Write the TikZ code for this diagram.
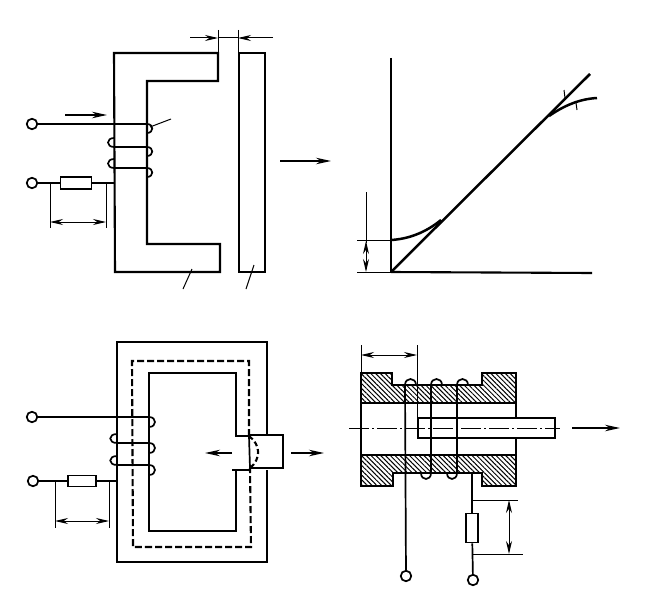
\documentclass[tikz,border=0pt]{standalone}
\usetikzlibrary{arrows.meta,patterns.meta}

\tikzset{
  wire/.style={line width=1.7pt},
  core/.style={line width=2.1pt,line join=miter},
  thin dim/.style={line width=1pt},
  dim arrow/.style={line width=1pt,{Stealth[length=13pt,width=6pt]}-{Stealth[length=13pt,width=6pt]}},
  gap arrow/.style={line width=1pt,-{Stealth[length=13pt,width=6pt]}},
  move arrow/.style={line width=1.3pt,-{Stealth[length=15pt,width=6.5pt]}},
  terminal/.style={circle,draw,line width=1.7pt,fill=white,minimum size=10.5pt,inner sep=0pt},
  resistor/.style={rectangle,draw,line width=1.9pt,fill=white,inner sep=0pt},
  hatched/.style={pattern={Lines[angle=-45,distance=3.4pt,line width=1pt]}}
}

\begin{document}
\begin{tikzpicture}[x=1pt,y=-1pt]

    \useasboundingbox (0,0) rectangle (663,599);

    % top left: open core and armature
    \draw[core] (218,53) -- (114,53) -- (115,272) -- (220,272) -- (220,244) -- (147,244) -- (147,81) -- (218,81) -- cycle;
    \draw[core] (239,53) rectangle (265,272);

    \draw[thin dim] (218,30) -- (218,53);
    \draw[thin dim] (238,30) -- (238,53);
    \coordinate (gapl) at (218,38);
    \coordinate (gapr) at (238,38);
    \coordinate (gapla) at (190,38);
    \coordinate (gapra) at (273,38);
    \draw[thin dim] (gapl) -- (gapr);
    \draw[gap arrow] (gapla) -- (gapl);
    \draw[gap arrow] (gapra) -- (gapr);

    \node(in1) [terminal] at (32,124) {};
    \node(in2) [terminal] at (32,183) {};
    \node(res1) [resistor,minimum width=31pt,minimum height=12pt] at (76,183) {};
    \coordinate (coil1a) at (147,124);
    \coordinate (coil1b) at (115,183);
    \draw[wire] (in1) -- (coil1a);
    \draw[wire] (in2) -- (res1);
    \draw[wire] (res1) -- (coil1b);

    \foreach \y in {124,147,168}
      \draw[wire] (147,\y) .. controls (154,\y) and (154,\y+9) .. (147,\y+9);
    \foreach \y in {147,168} {
      \draw[wire] (114,\y) -- (147,\y);
      \draw[wire] (114,\y) .. controls (106,\y) and (106,\y-9) .. (114,\y-9);
    }

    \draw[thin dim] (50,183) -- (50,228);
    \draw[thin dim] (106,183) -- (106,228);
    \draw[dim arrow] (50,222) -- (106,222);
    \draw[move arrow] (65,115) -- (107,115);

    \draw[thin dim] (150,127) -- (171,119);
    \draw[thin dim] (192,269) -- (183,289);
    \draw[thin dim] (254,265) -- (246,289);

    \draw[move arrow] (280,161) -- (331,161);

    % top right: curve
    \coordinate (origin) at (391,272);
    \draw[core] (391,58) -- (origin);
    \draw[core] (origin) -- (592,273);
    \draw[core,line width=2.5pt] (origin) -- (590,74);
    \draw[core,line width=2.5pt] (391,240) .. controls (408,239) and (425,233) .. (441,220);
    \draw[core,line width=2.5pt] (549,116) .. controls (565,105) and (580,99) .. (597,98);
    \draw[thin dim] (564,90) -- (565,98);
    \draw[thin dim] (576,103) -- (577,110);
    \draw[thin dim] (357,240) -- (391,240);
    \draw[thin dim] (357,272) -- (391,272);
    \draw[thin dim] (366,192) -- (366,243);
    \draw[dim arrow] (366,241) -- (366,272);

    % bottom left: closed core with plunger
    \draw[core] (267,435) -- (267,342) -- (117,342) -- (117,562) -- (267,562) -- (267,470);
    \draw[core] (249,436) -- (236,436) -- (236,373) -- (149,373) -- (149,531) -- (236,531) -- (236,470) -- (232,470);
    \draw[core] (236,470) -- (249,470);
    \draw[core] (249,435) -- (283,435) -- (283,468) -- (249,468);
    \draw[core,dash pattern=on 7pt off 3pt] (249,436) -- (249,361) -- (132,361) -- (133,547) -- (251,547) -- (250,468);
    \draw[wire] (249,436) -- (250,468);
    \draw[core,dash pattern=on 5pt off 3pt] (249,436) .. controls (261,445) and (261,459) .. (250,468);

    \node(in3) [terminal] at (32,417) {};
    \node(in4) [terminal] at (33,481) {};
    \node(res2) [resistor,minimum width=28pt,minimum height=11pt] at (82,481) {};
    \coordinate (coil2a) at (149,417);
    \coordinate (coil2b) at (117,481);
    \draw[wire] (in3) -- (coil2a);
    \draw[wire] (in4) -- (res2);
    \draw[wire] (res2) -- (coil2b);

    \foreach \y in {417,443,465}
      \draw[wire] (149,\y) .. controls (157,\y) and (157,\y+10) .. (149,\y+10);
    \foreach \y in {443,465} {
      \draw[wire] (117,\y) -- (149,\y);
      \draw[wire] (117,\y) .. controls (108,\y) and (108,\y-9) .. (117,\y-9);
    }

    \draw[thin dim] (55,481) -- (55,528);
    \draw[thin dim] (109,481) -- (109,528);
    \draw[dim arrow] (55,521) -- (109,521);
    \draw[move arrow] (232,453) -- (205,453);
    \draw[move arrow] (291,453) -- (324,453);

    % bottom right: solenoid section
    \draw[core,hatched] (361,373) -- (392,373) -- (392,385) -- (482,385) -- (482,373) -- (516,373) -- (516,403) -- (361,403) -- cycle;
    \draw[core,hatched] (361,455) -- (516,455) -- (516,486) -- (482,486) -- (482,473) -- (393,473) -- (393,486) -- (361,486) -- cycle;
    \draw[core] (361,403) -- (361,455);
    \draw[core] (516,403) -- (516,455);

    \draw[core,fill=white] (418,418) rectangle (555,438);
    \draw[thin dim,dash pattern=on 20pt off 3pt on 2pt off 3pt] (349,428) -- (560,428);

    \draw[thin dim] (361,345) -- (361,373);
    \draw[thin dim] (417,345) -- (417,418);
    \draw[dim arrow] (361,355) -- (417,355);
    \draw[move arrow] (572,428) -- (620,428);

    \node(in5) [terminal] at (406,576) {};
    \node(in6) [terminal] at (473,580) {};
    \node(res3) [resistor,minimum width=12pt,minimum height=29pt] at (472,528) {};
    \coordinate (coil3a) at (405,385);
    \coordinate (coil3b) at (472,473);
    \draw[wire] (coil3a) -- (in5);
    \draw[wire] (coil3b) -- (res3);
    \draw[wire] (res3) -- (in6);

    \foreach \x in {405,431,457}
      \draw[wire] (\x,385) .. controls (\x,377) and (\x+11,377) .. (\x+11,385);
    \foreach \x in {431,457} {
      \draw[wire] (\x,385) -- (\x,473);
      \draw[wire] (\x,473) .. controls (\x,481) and (\x-10,481) .. (\x-10,473);
    }

    \draw[thin dim] (472,500) -- (518,500);
    \draw[thin dim] (472,554) -- (523,554);
    \draw[dim arrow] (509,500) -- (509,554);

  \end{tikzpicture}
\end{document}
